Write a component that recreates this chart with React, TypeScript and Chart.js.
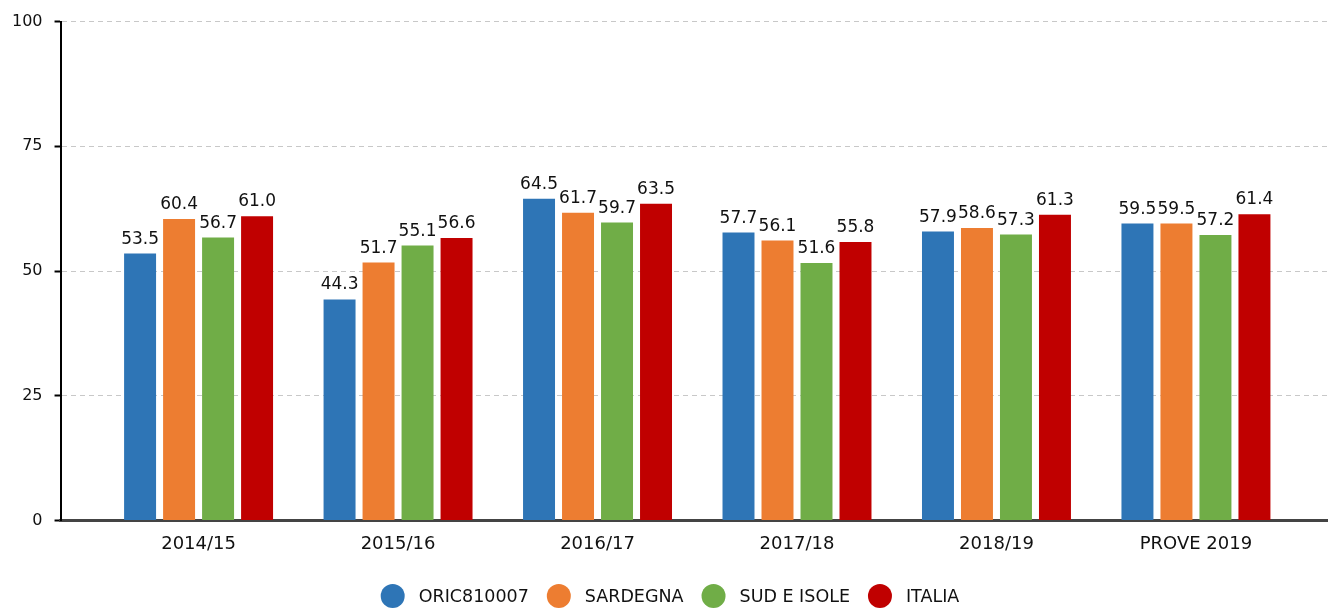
import React, { useEffect, useRef } from "react";
import Chart from "chart.js/auto";

const categories = ["2014/15", "2015/16", "2016/17", "2017/18", "2018/19", "PROVE 2019"];
const seriesNames = ["ORIC810007", "SARDEGNA", "SUD E ISOLE", "ITALIA"];
const oric = [53.5, 44.3, 64.5, 57.7, 57.9, 59.5];
const sardegna = [60.4, 51.7, 61.7, 56.1, 58.6, 59.5];
const sudIsole = [56.7, 55.1, 59.7, 51.6, 57.3, 57.2];
const italia = [61.0, 56.6, 63.5, 55.8, 61.3, 61.4];
const yTicks = [0, 25, 50, 75, 100];
const colors = ["#2E75B6", "#ED7D31", "#70AD47", "#C00000"];

const FONT = "'DejaVu Sans', sans-serif";

const valueLabels = {
  id: "valueLabels",
  afterDatasetsDraw(chart: any) {
    const ctx = chart.ctx;
    ctx.save();
    ctx.font = `17px ${FONT}`;
    ctx.fillStyle = "#111";
    ctx.textAlign = "center";
    ctx.textBaseline = "alphabetic";
    chart.data.datasets.forEach((ds: any, di: number) => {
      const meta = chart.getDatasetMeta(di);
      meta.data.forEach((bar: any, i: number) => {
        const v = ds.data[i].y;
        ctx.fillText(v.toFixed(1), bar.x, bar.y - 10);
      });
    });
    ctx.restore();
  },
};

const customLegend = {
  id: "customLegend",
  afterDraw(chart: any) {
    const ctx = chart.ctx;
    ctx.save();
    ctx.font = `17.5px ${FONT}`;
    ctx.textBaseline = "middle";
    ctx.textAlign = "left";
    const r = 12;
    const gapText = 14;
    const gapItem = 18;
    const widths = seriesNames.map((n) => ctx.measureText(n).width);
    const total =
      widths.reduce((a, w) => a + 2 * r + gapText + w, 0) + gapItem * (seriesNames.length - 1);
    let x = chart.width / 2 - total / 2 + 6;
    const y = 596;
    seriesNames.forEach((n, i) => {
      ctx.fillStyle = colors[i];
      ctx.beginPath();
      ctx.arc(x + r, y, r, 0, Math.PI * 2);
      ctx.fill();
      ctx.fillStyle = "#111";
      ctx.fillText(n, x + 2 * r + gapText, y + 1);
      x += 2 * r + gapText + widths[i] + gapItem;
    });
    ctx.restore();
  },
};

export default function App() {
  const ref = useRef<HTMLCanvasElement>(null);
  useEffect(() => {
    document.body.style.margin = "0";
    const series = [oric, sardegna, sudIsole, italia];
    const chart = new Chart(ref.current!, {
      type: "bar",
      data: {
        datasets: series.map((s, k) => ({
          label: seriesNames[k],
          data: s.map((v, i) => ({ x: i, y: v })),
          backgroundColor: colors[k],
          borderWidth: 0,
          categoryPercentage: 0.782,
          barPercentage: 0.82,
        })),
      },
      options: {
        animation: false,
        responsive: false,
        maintainAspectRatio: false,
        layout: { padding: { top: 6, left: 0, right: 0, bottom: 50 } },
        plugins: {
          tooltip: { enabled: false },
          legend: { display: false },
        },
        scales: {
          x: {
            type: "linear",
            offset: false,
            min: -0.692,
            max: 5.662,
            afterBuildTicks: (scale: any) => {
              scale.ticks = categories.map((_, i) => ({ value: i }));
            },
            grid: { display: false },
            border: { display: true, color: "#444", width: 3 },
            ticks: {
              color: "#111",
              font: { family: FONT, size: 18 },
              padding: 5,
              autoSkip: false,
              maxRotation: 0,
              callback: (v: any) => categories[v] ?? "",
            },
          },
          y: {
            min: 0,
            max: 100,
            afterBuildTicks: (scale: any) => {
              scale.ticks = yTicks.map((v) => ({ value: v }));
            },
            grid: {
              color: "#c8c8c8",
              tickColor: "#000",
              tickLength: 6,
              tickWidth: 2,
              tickBorderDash: [],
              drawTicks: true,
            },
            border: { display: true, color: "#000", width: 2, dash: [5, 4] },
            ticks: {
              color: "#111",
              font: { family: FONT, size: 16 },
              padding: 12,
            },
          },
        },
      },
      plugins: [valueLabels, customLegend],
    } as any);
    return () => chart.destroy();
  }, []);
  return (
    <div style={{ position: "absolute", left: 0, top: 0, width: 1328, height: 610 }}>
      <canvas ref={ref} width={1328} height={610} />
    </div>
  );
}
